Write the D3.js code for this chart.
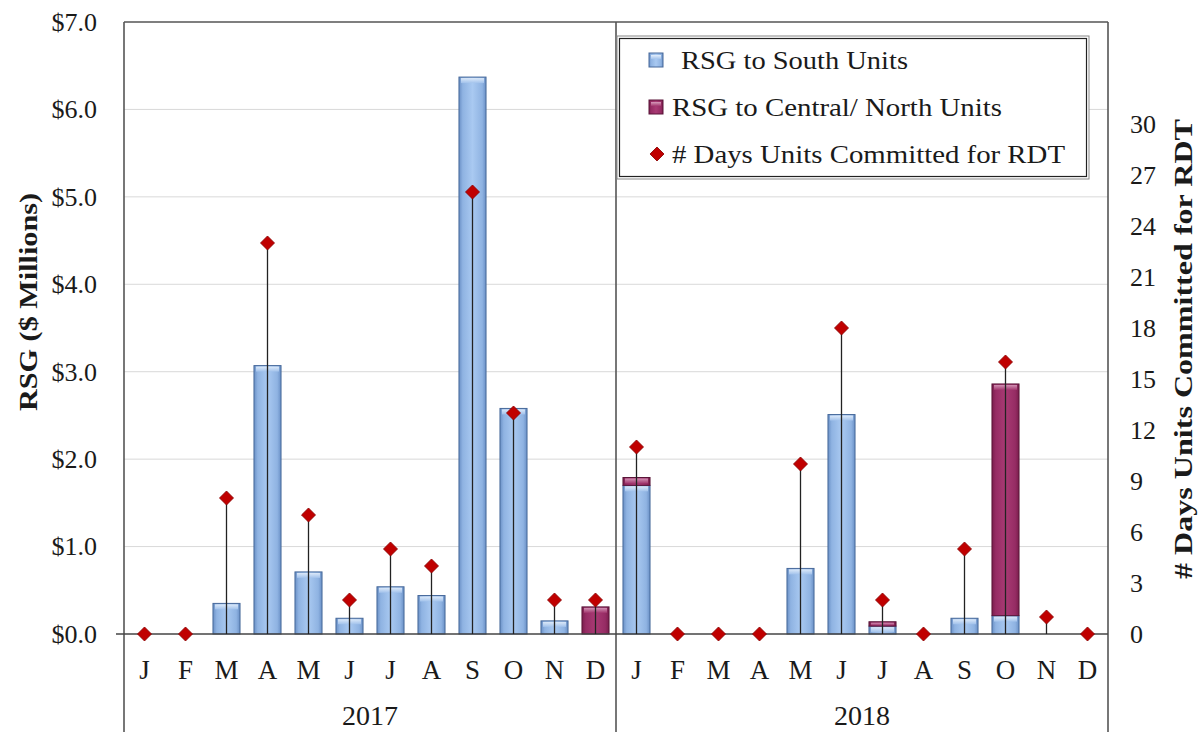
<!DOCTYPE html>
<html>
<head>
<meta charset="utf-8">
<script src="https://cdn.jsdelivr.net/npm/d3@7/dist/d3.min.js"></script>
<style>
  html, body { margin: 0; padding: 0; background: #ffffff; }
  svg { display: block; }
  text { font-family: "Liberation Serif", "Times New Roman", serif; fill: #1a1a1a; }
</style>
</head>
<body>
<svg id="chart" width="1202" height="732"></svg>
<script>
// ---------------- DATA ----------------
const months = ["J","F","M","A","M","J","J","A","S","O","N","D"];
const years = ["2017","2018"];
// RSG ($ Millions) to South units, Jan 2017 .. Dec 2018
const southRSG = [0, 0, 0.35, 3.07, 0.71, 0.18, 0.54, 0.44, 6.37, 2.58, 0.15, 0,
                  1.70, 0, 0, 0, 0.75, 2.51, 0.09, 0, 0.18, 0.21, 0, 0];
// RSG ($ Millions) to Central / North units
const centralRSG = [0, 0, 0, 0, 0, 0, 0, 0, 0, 0, 0, 0.31,
                    0.09, 0, 0, 0, 0, 0, 0.05, 0, 0, 2.65, 0, 0];
// # days units committed for RDT
const rdtDays = [0, 0, 8, 23, 7, 2, 5, 4, 26, 13, 2, 2,
                 11, 0, 0, 0, 10, 18, 2, 0, 5, 16, 1, 0];
const leftTicks = [0, 1, 2, 3, 4, 5, 6, 7];
const rightTicks = [0, 3, 6, 9, 12, 15, 18, 21, 24, 27, 30];
const legendLabels = ["RSG to South Units", "RSG to Central/ North Units", "# Days Units Committed for RDT"];
const leftTitle = "RSG ($ Millions)";
const rightTitle = "# Days Units Committed for RDT";

// ---------------- LAYOUT ----------------
const svg = d3.select("#chart");
const plot = { left: 124, right: 1108, top: 22, bottom: 634 };

const keys = d3.range(southRSG.length);
const x = d3.scaleBand().domain(keys).range([plot.left, plot.right])
  .paddingInner(0.34).paddingOuter(0.17);
const yL = d3.scaleLinear().domain([0, 7]).range([plot.bottom, plot.top]);
const yR = d3.scaleLinear().domain([0, 36]).range([plot.bottom, plot.top]);

// ---------------- GRADIENTS ----------------
const defs = svg.append("defs");
function sideGrad(id, edge, mid, center) {
  const g = defs.append("linearGradient").attr("id", id)
    .attr("x1", "0%").attr("x2", "100%").attr("y1", "0%").attr("y2", "0%");
  g.append("stop").attr("offset", "0%").attr("stop-color", edge);
  g.append("stop").attr("offset", "14%").attr("stop-color", mid);
  g.append("stop").attr("offset", "50%").attr("stop-color", center);
  g.append("stop").attr("offset", "86%").attr("stop-color", mid);
  g.append("stop").attr("offset", "100%").attr("stop-color", edge);
}
function capGrad(id, top, bottom) {
  const g = defs.append("linearGradient").attr("id", id)
    .attr("x1", "0%").attr("x2", "0%").attr("y1", "0%").attr("y2", "100%");
  g.append("stop").attr("offset", "0%").attr("stop-color", top);
  g.append("stop").attr("offset", "100%").attr("stop-color", bottom);
}
sideGrad("gBlue", "#6a90c6", "#8fb3e2", "#a9c9f1");
capGrad("cBlue", "#e3eefb", "#a3c3ec");
sideGrad("gPurple", "#7a1d4c", "#962c64", "#a93a74");
capGrad("cPurple", "#d79bbb", "#a3386f");

// ---------------- GRIDLINES ----------------
svg.append("g").selectAll("line")
  .data(leftTicks.filter(d => d > 0 && d < 7))
  .join("line")
  .attr("x1", plot.left).attr("x2", plot.right)
  .attr("y1", d => yL(d)).attr("y2", d => yL(d))
  .attr("stroke", "#d9d9d9").attr("stroke-width", 1);

// ---------------- BARS ----------------
const segs = [];
keys.forEach(i => {
  if (southRSG[i] > 0) segs.push({ i, y0: 0, y1: southRSG[i], s: "Blue" });
  if (centralRSG[i] > 0) segs.push({ i, y0: southRSG[i], y1: southRSG[i] + centralRSG[i], s: "Purple" });
});
const barG = svg.append("g");
const segG = barG.selectAll("g").data(segs).join("g");
segG.append("rect")
  .attr("x", d => x(d.i)).attr("width", x.bandwidth())
  .attr("y", d => yL(d.y1)).attr("height", d => yL(d.y0) - yL(d.y1))
  .attr("fill", d => `url(#g${d.s})`)
  .attr("stroke", d => d.s === "Blue" ? "#46689a" : "#5a1538")
  .attr("stroke-width", 1);
segG.append("rect")
  .attr("x", d => x(d.i) + 2).attr("width", x.bandwidth() - 4)
  .attr("y", d => yL(d.y1) + 1)
  .attr("height", d => Math.max(0, Math.min(5, yL(d.y0) - yL(d.y1) - 2)))
  .attr("fill", d => `url(#c${d.s})`)
  .attr("opacity", 0.9);

// ---------------- FRAME ----------------
const frame = svg.append("g").attr("stroke", "#555").attr("stroke-width", 1.6).attr("fill", "none");
frame.append("line").attr("x1", plot.left).attr("x2", plot.right).attr("y1", plot.top).attr("y2", plot.top);
[plot.left, (plot.left + plot.right) / 2, plot.right].forEach(xx => {
  frame.append("line").attr("x1", xx).attr("x2", xx).attr("y1", plot.top).attr("y2", 732);
});
frame.append("line").attr("x1", plot.left - 8).attr("x2", plot.right)
  .attr("y1", plot.bottom).attr("y2", plot.bottom).attr("stroke", "#444");

// ---------------- STEMS + DIAMONDS ----------------
const cx = i => x(i) + x.bandwidth() / 2;
svg.append("g").selectAll("line")
  .data(keys.filter(i => rdtDays[i] > 0))
  .join("line")
  .attr("x1", cx).attr("x2", cx)
  .attr("y1", plot.bottom).attr("y2", i => yR(rdtDays[i]))
  .attr("stroke", "#222").attr("stroke-width", 1.3);

const diamond = d3.symbol().type(d3.symbolSquare).size(98);
svg.append("g").selectAll("path")
  .data(keys)
  .join("path")
  .attr("d", diamond)
  .attr("transform", i => `translate(${cx(i)},${yR(rdtDays[i])}) rotate(45)`)
  .attr("fill", "#c00000").attr("stroke", "#8a0000").attr("stroke-width", 0.8);

// ---------------- AXES ----------------
const axL = svg.append("g").attr("transform", `translate(${plot.left},0)`)
  .call(d3.axisLeft(yL).tickValues(leftTicks).tickSize(0).tickPadding(27)
    .tickFormat(d => "$" + d3.format(".1f")(d)));
axL.select(".domain").remove();
axL.selectAll("text").attr("font-size", 26).attr("fill", "#1a1a1a")
  .style("font-family", '"Liberation Serif", serif');

const axR = svg.append("g").attr("transform", `translate(${plot.right},0)`)
  .call(d3.axisRight(yR).tickValues(rightTicks).tickSize(0).tickPadding(22));
axR.select(".domain").remove();
axR.selectAll("text").attr("font-size", 26).attr("fill", "#1a1a1a")
  .style("font-family", '"Liberation Serif", serif');

// month labels
svg.append("g").selectAll("text")
  .data(keys)
  .join("text")
  .attr("x", cx).attr("y", 679)
  .attr("text-anchor", "middle").attr("font-size", 27)
  .text(i => months[i % 12]);

// year labels
const half = (plot.right - plot.left) / 2;
svg.append("g").selectAll("text")
  .data(years)
  .join("text")
  .attr("x", (d, j) => plot.left + half * (j + 0.5)).attr("y", 725)
  .attr("text-anchor", "middle").attr("font-size", 28)
  .text(d => d);

// axis titles
svg.append("text")
  .attr("transform", "translate(37,302) rotate(-90)")
  .attr("text-anchor", "middle").attr("font-size", 26).attr("font-weight", "bold")
  .attr("textLength", 218).attr("lengthAdjust", "spacingAndGlyphs")
  .text(leftTitle);
svg.append("text")
  .attr("transform", "translate(1192,349) rotate(-90)")
  .attr("text-anchor", "middle").attr("font-size", 26).attr("font-weight", "bold")
  .attr("textLength", 460).attr("lengthAdjust", "spacingAndGlyphs")
  .text(rightTitle);

// ---------------- LEGEND ----------------
const lg = svg.append("g");
lg.append("rect").attr("x", 617).attr("y", 36).attr("width", 472).attr("height", 143)
  .attr("fill", "#fff").attr("stroke", "#888").attr("stroke-width", 1);
lg.append("rect").attr("x", 619.5).attr("y", 38.5).attr("width", 467).attr("height", 138)
  .attr("fill", "none").attr("stroke", "#222").attr("stroke-width", 1.2);

const legendRows = [
  { label: legendLabels[0], kind: "Blue", cy: 60, tx: 681, len: 227 },
  { label: legendLabels[1], kind: "Purple", cy: 107, tx: 672, len: 330 },
  { label: legendLabels[2], kind: "diamond", cy: 154, tx: 672, len: 393 }
];
legendRows.forEach(r => {
  if (r.kind === "diamond") {
    lg.append("path").attr("d", diamond)
      .attr("transform", `translate(657,${r.cy}) rotate(45)`)
      .attr("fill", "#c00000").attr("stroke", "#8a0000").attr("stroke-width", 0.8);
  } else {
    lg.append("rect").attr("x", 649).attr("y", r.cy - 7).attr("width", 14).attr("height", 14)
      .attr("fill", `url(#g${r.kind})`)
      .attr("stroke", r.kind === "Blue" ? "#46689a" : "#5a1538");
    lg.append("rect").attr("x", 651).attr("y", r.cy - 5).attr("width", 10).attr("height", 4)
      .attr("fill", `url(#c${r.kind})`);
  }
  lg.append("text").attr("x", r.tx).attr("y", r.cy + 9)
    .attr("font-size", 26)
    .attr("textLength", r.len).attr("lengthAdjust", "spacingAndGlyphs")
    .text(r.label);
});
</script>
</body>
</html>
